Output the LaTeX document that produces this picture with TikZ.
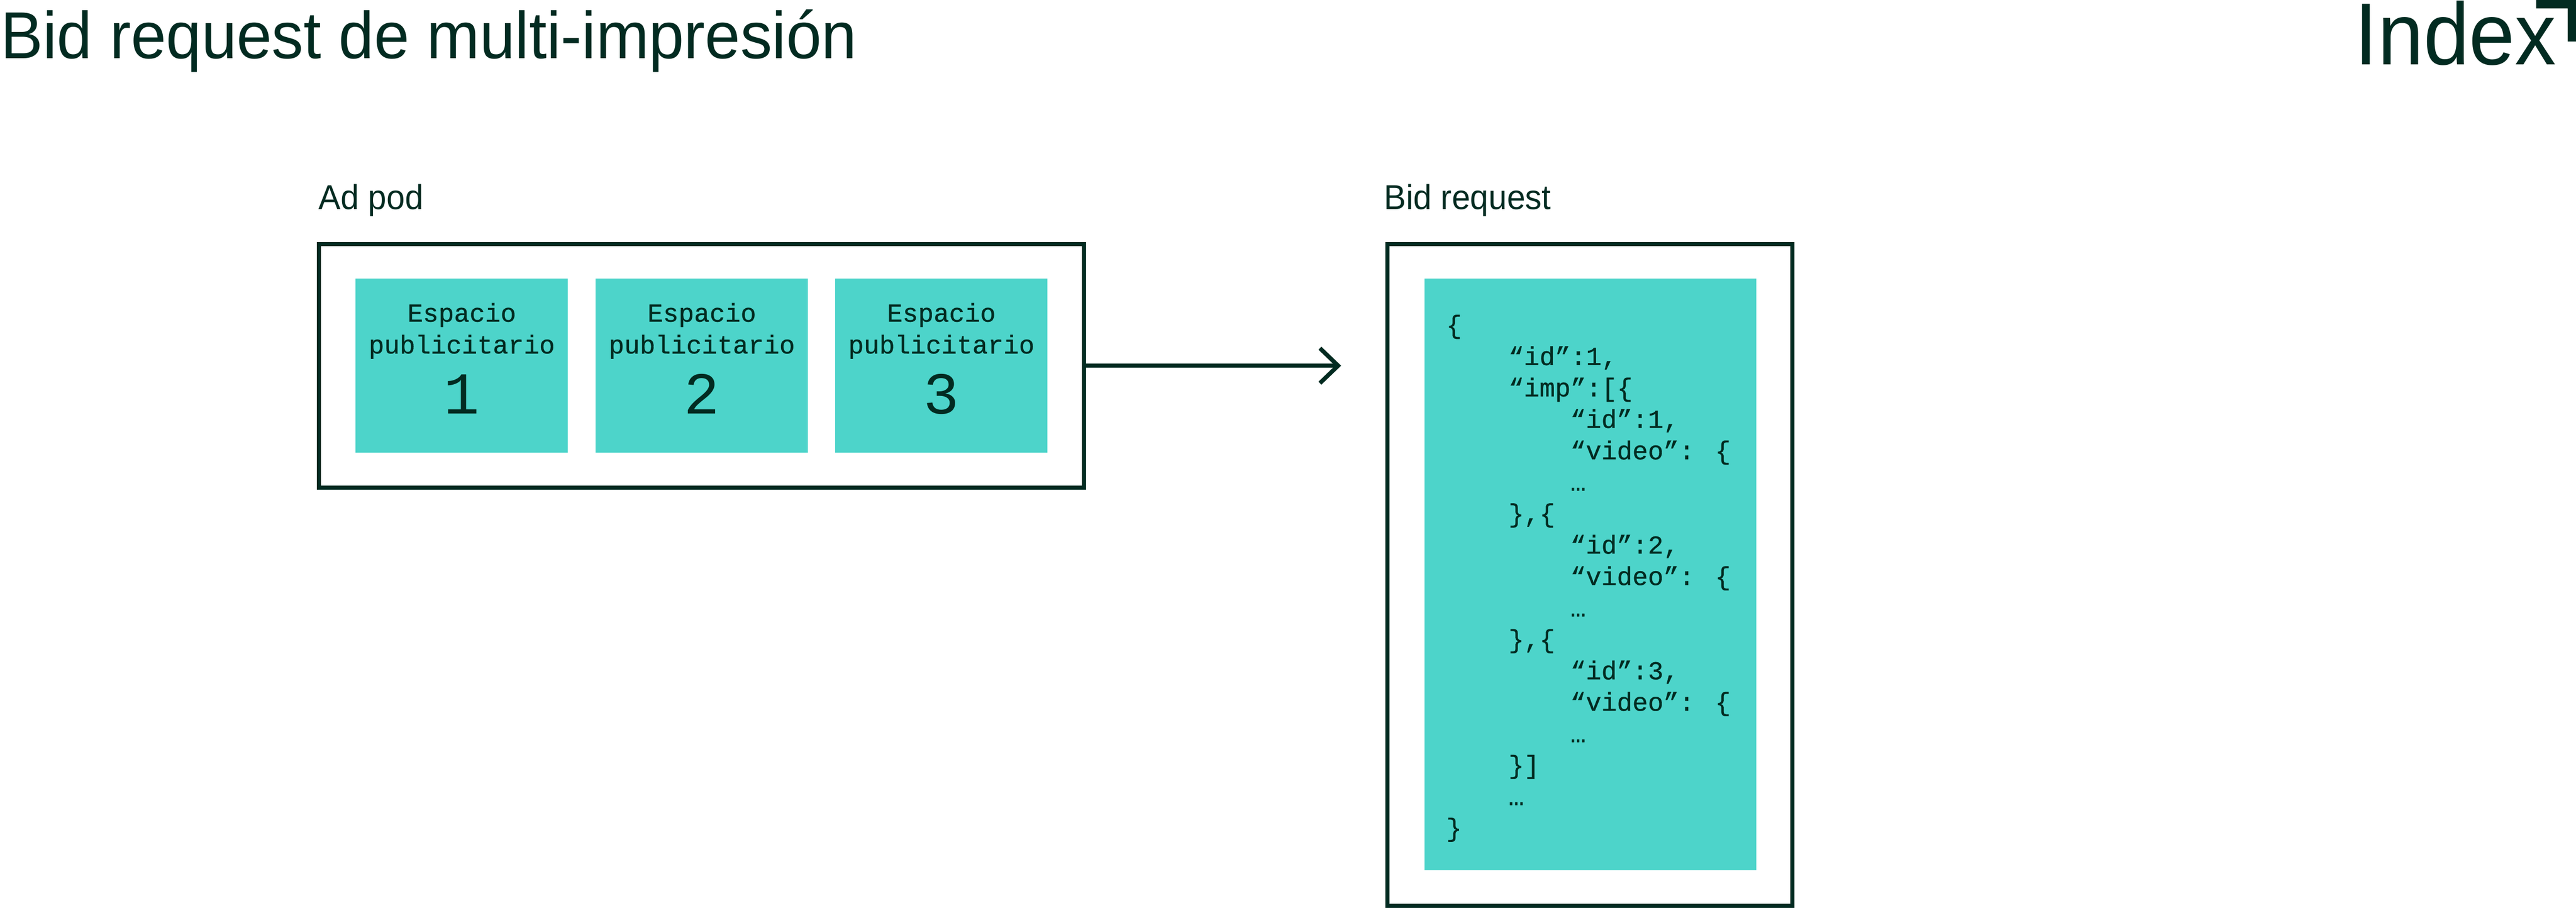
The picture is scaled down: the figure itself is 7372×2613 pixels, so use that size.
\documentclass[tikz,border=0pt]{standalone}
\usepackage{fontspec}
\usetikzlibrary{arrows.meta}
\newfontfamily\headfont{Liberation Sans}[FakeStretch=0.955]
\newfontfamily\logofont{Liberation Sans}[FakeStretch=0.935]
\newfontfamily\codefont{Liberation Mono}[FakeBold=0.6]
\newfontfamily\numfont{Liberation Mono}
\definecolor{ink}{HTML}{022B21}
\definecolor{teal}{HTML}{4DD4CA}
\tikzset{
  frame/.style={draw=ink, line width=1.2pt, fill=white, inner sep=0pt, outer sep=0pt},
  slot/.style={fill=teal, draw=none, inner sep=0pt, outer sep=0pt, minimum width=60.7pt, minimum height=49.8pt},
  slottext/.style={font=\codefont\fontsize{7.4pt}{9pt}\selectfont, text=ink, inner sep=0pt, anchor=base},
  slotnum/.style={font=\numfont\fontsize{17pt}{20pt}\selectfont, text=ink, inner sep=0pt, anchor=base},
  code/.style={font=\codefont\fontsize{7.4pt}{9pt}\selectfont, text=ink, inner sep=0pt, anchor=base west},
  label/.style={font=\headfont\fontsize{9.9pt}{12pt}\selectfont, text=ink, inner sep=0pt, anchor=base west},
  arr/.style={draw=ink, line width=1.2pt, -{Straight Barb[length=5.2pt,width=10pt]}}
}
\begin{document}
\begin{tikzpicture}[x=0.1pt,y=-0.1pt]
\useasboundingbox (0,0) rectangle (7372,2613);
% title
\node[font=\headfont\fontsize{19pt}{22pt}\selectfont, text=ink, inner sep=0pt, anchor=base west] (title) at (0,168) {Bid request de multi-impresión};
% logo
\node[font=\logofont\fontsize{25.2pt}{30pt}\selectfont, text=ink, inner sep=0pt, anchor=base west] (logo) at (6737,185) {Index};
\fill[ink] (7258,0) -- (7372,0) -- (7372,119) -- (7348,119) -- (7348,24) -- (7258,24) -- cycle;
% labels
\node[label] (adpodlabel) at (910,599) {Ad pod};
\node[label] (bidlabel) at (3959,599) {Bid request};
% ad pod frame
\node[frame, minimum width=218.9pt, minimum height=69.75pt] (adpod) at (2007.5,1047) {};
\node[slot] (s1) at (1321.5,1047) {};
\node[slot] (s2) at (2008.5,1047) {};
\node[slot] (s3) at (2694,1047) {};
\node[slottext] (s1a) at (1321.5,921) {Espacio};
\node[slottext] (s1b) at (1321.5,1012) {publicitario};
\node[slotnum] (s1n) at (1321.5,1185) {1};
\node[slottext] (s2a) at (2008.5,921) {Espacio};
\node[slottext] (s2b) at (2008.5,1012) {publicitario};
\node[slotnum] (s2n) at (2008.5,1185) {2};
\node[slottext] (s3a) at (2694,921) {Espacio};
\node[slottext] (s3b) at (2694,1012) {publicitario};
\node[slotnum] (s3n) at (2694,1185) {3};
% arrow
\coordinate (arrend) at (3838,1047);
\draw[arr] (adpod.east) -- (arrend);
% bid request frame
\node[frame, minimum width=116pt, minimum height=189.55pt] (bid) at (4550,1646) {};
\node[slot, minimum width=94.9pt, minimum height=169.4pt] (codebox) at (4551.5,1645) {};
% code lines (x0 = 4137, indent = 4 characters)
\node[code] (c1)  at (4137,955)  {\{};
\node[code] (c2)  at (4315,1045) {“id”:1,};
\node[code] (c3)  at (4315,1135) {“imp”:[\{};
\node[code] (c4)  at (4492,1225) {“id”:1,};
\node[code] (c5)  at (4492,1315) {“video”: \{};
\node[code] (c6)  at (4492,1405) {…};
\node[code] (c7)  at (4315,1495) {\},\{};
\node[code] (c8)  at (4492,1585) {“id”:2,};
\node[code] (c9)  at (4492,1675) {“video”: \{};
\node[code] (c10) at (4492,1765) {…};
\node[code] (c11) at (4315,1855) {\},\{};
\node[code] (c12) at (4492,1945) {“id”:3,};
\node[code] (c13) at (4492,2035) {“video”: \{};
\node[code] (c14) at (4492,2125) {…};
\node[code] (c15) at (4315,2215) {\}]};
\node[code] (c16) at (4315,2305) {…};
\node[code] (c17) at (4137,2395) {\}};
\end{tikzpicture}
\end{document}
